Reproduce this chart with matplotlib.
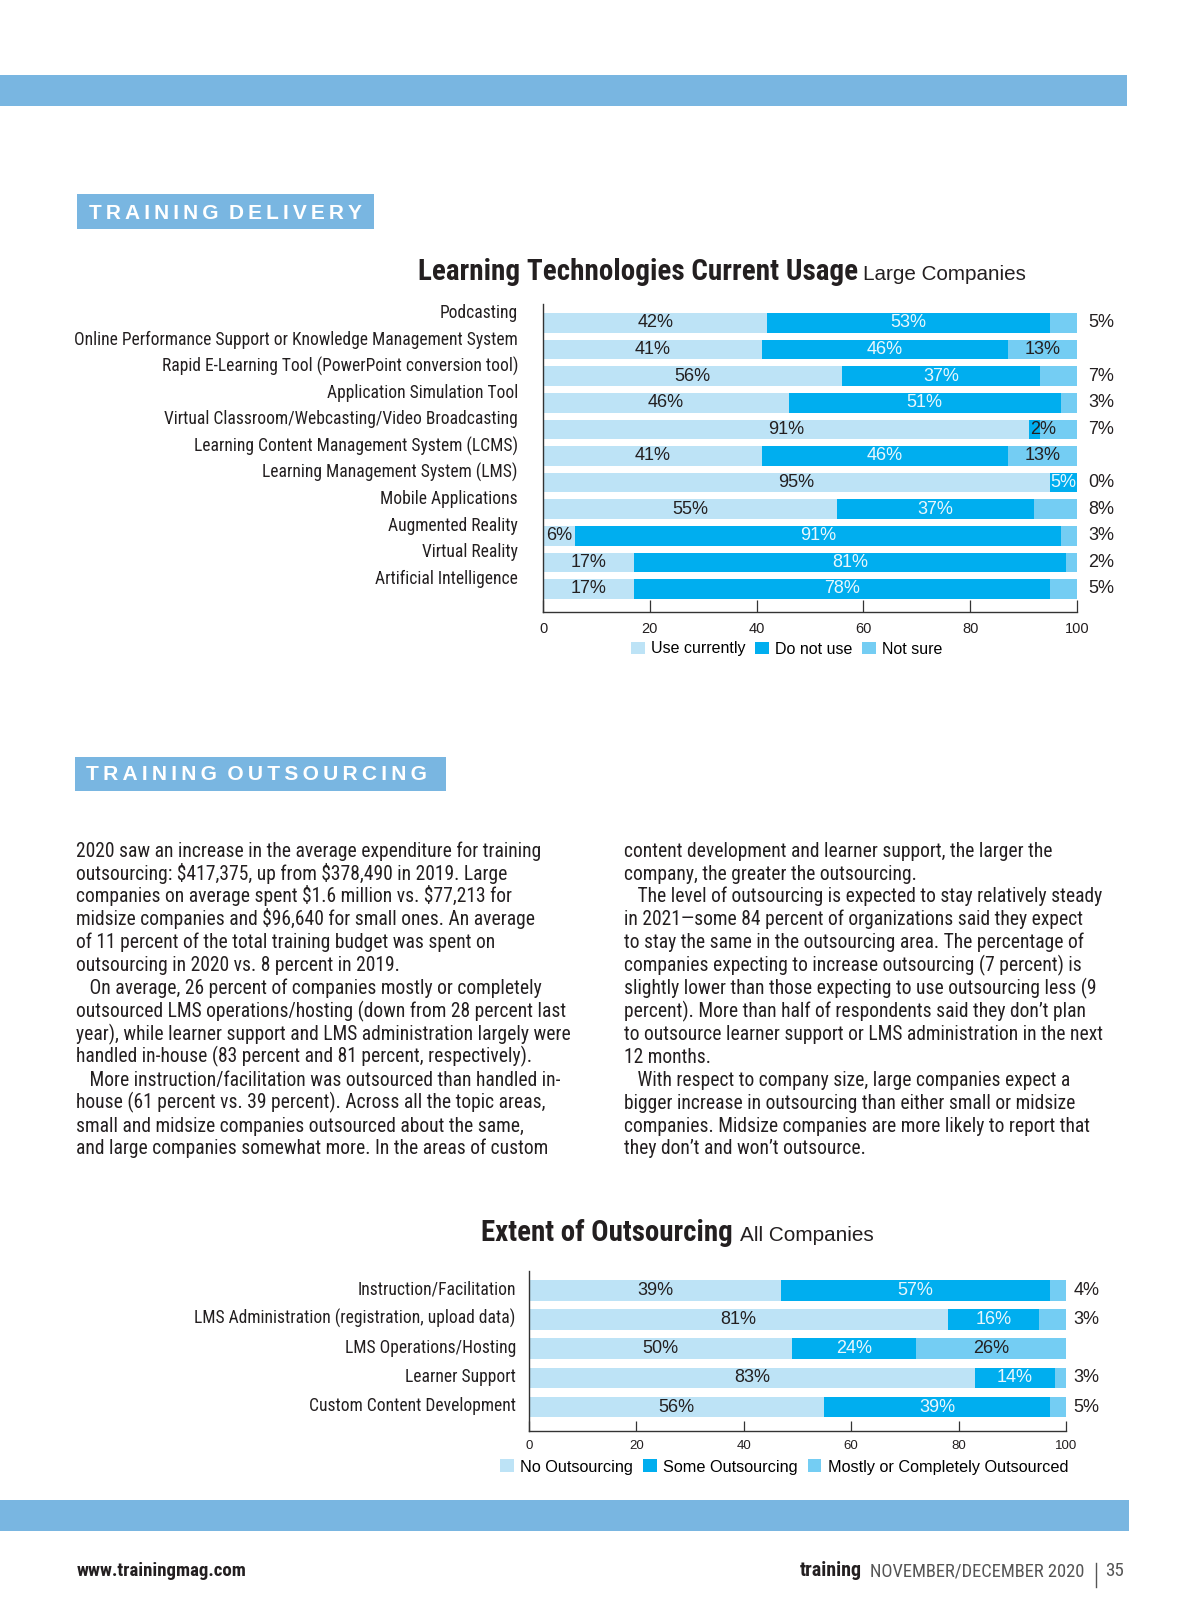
#!/usr/bin/env python3
"""Training magazine page: learning technologies usage + extent of outsourcing"""
import numpy as np
import matplotlib
matplotlib.use('Agg')
import matplotlib.pyplot as plt
import matplotlib.transforms as mtrans
from matplotlib import font_manager as fm
from matplotlib.patches import Rectangle, Patch

# ── data ──────────────────────────────────────────────────────────────────────
tech = ['Podcasting',
        'Online Performance Support or Knowledge Management System',
        'Rapid E-Learning Tool (PowerPoint conversion tool)',
        'Application Simulation Tool',
        'Virtual Classroom/Webcasting/Video Broadcasting',
        'Learning Content Management System (LCMS)',
        'Learning Management System (LMS)',
        'Mobile Applications',
        'Augmented Reality',
        'Virtual Reality',
        'Artificial Intelligence']
use_now  = [42, 41, 56, 46, 91, 41, 95, 55, 6, 17, 17]
not_use  = [53, 46, 37, 51, 2, 46, 5, 37, 91, 81, 78]
not_sure = [5, 13, 7, 3, 7, 13, 0, 8, 3, 2, 5]
tech_legend = ['Use currently', 'Do not use', 'Not sure']

areas = ['Instruction/Facilitation',
         'LMS Administration (registration, upload data)',
         'LMS Operations/Hosting',
         'Learner Support',
         'Custom Content Development']
no_out   = [39, 81, 50, 83, 56]
some_out = [57, 16, 24, 14, 39]
most_out = [4, 3, 26, 3, 5]
# segment lengths as drawn in the original (they don't all agree with the printed labels)
no_out_bar   = [47, 78, 49, 83, 55]
some_out_bar = [50, 17, 23, 15, 42]
most_out_bar = [3, 5, 28, 2, 3]
out_legend = ['No Outsourcing', 'Some Outsourcing', 'Mostly or Completely Outsourced']
ticks = [0, 20, 40, 60, 80, 100]

left_col = [
    '2020 saw an increase in the average expenditure for training',
    'outsourcing: $417,375, up from $378,490 in 2019. Large',
    'companies on average spent $1.6 million vs. $77,213 for',
    'midsize companies and $96,640 for small ones. An average',
    'of 11 percent of the total training budget was spent on',
    'outsourcing in 2020 vs. 8 percent in 2019.',
    '   On average, 26 percent of companies mostly or completely',
    'outsourced LMS operations/hosting (down from 28 percent last',
    'year), while learner support and LMS administration largely were',
    'handled in-house (83 percent and 81 percent, respectively).',
    '   More instruction/facilitation was outsourced than handled in-',
    'house (61 percent vs. 39 percent). Across all the topic areas,',
    'small and midsize companies outsourced about the same,',
    'and large companies somewhat more. In the areas of custom',
]
right_col = [
    'content development and learner support, the larger the',
    'company, the greater the outsourcing.',
    '   The level of outsourcing is expected to stay relatively steady',
    'in 2021\u2014some 84 percent of organizations said they expect',
    'to stay the same in the outsourcing area. The percentage of',
    'companies expecting to increase outsourcing (7 percent) is',
    'slightly lower than those expecting to use outsourcing less (9',
    'percent). More than half of respondents said they don\u2019t plan',
    'to outsource learner support or LMS administration in the next',
    '12 months.',
    '   With respect to company size, large companies expect a',
    'bigger increase in outsourcing than either small or midsize',
    'companies. Midsize companies are more likely to report that',
    'they don\u2019t and won\u2019t outsource.',
]

# ── style ─────────────────────────────────────────────────────────────────────
W, H = 1200, 1613
BAND  = '#79b6e1'
LIGHT = '#bde3f6'
DARK  = '#00aeef'
MID   = '#74cdf3'
INK   = '#231f20'
PALE  = '#e9f7fd'
SANS  = ['Liberation Sans', 'DejaVu Sans']


def pick_condensed():
    ttf = fm.fontManager.ttflist
    names = {f.name for f in ttf}
    for p in ['Roboto Condensed', 'Liberation Sans Narrow', 'Noto Sans Condensed',
              'Open Sans Condensed', 'DejaVu Sans Condensed']:
        if p in names:
            return p, 'normal'
    for fam in ['Roboto', 'Noto Sans', 'Open Sans', 'DejaVu Sans']:
        if any(f.name == fam and str(f.stretch) in ('condensed', 'semi-condensed', 'extra-condensed')
               for f in ttf):
            return fam, 'condensed'
    return 'Liberation Sans', 'normal'


COND, STRETCH = pick_condensed()
CF = dict(family=[COND, 'DejaVu Sans'], fontstretch=STRETCH)

fig = plt.figure(figsize=(W / 100, H / 100), dpi=100)
fig.patch.set_facecolor('white')


def fx(x): return x / W
def fy(y): return 1 - y / H


def fit_size(s, width, **kw):
    t = fig.text(0, 0, s, fontsize=10, parse_math=False, **kw)
    w = t.get_window_extent(fig.canvas.get_renderer()).width
    t.remove()
    return 10 * width / w


def block(x0, y0, x1, y1, color=BAND):
    fig.add_artist(Rectangle((fx(x0), fy(y1)), (x1 - x0) / W, (y1 - y0) / H,
                             transform=fig.transFigure, color=color, lw=0, zorder=0))


def ftext(x, y, s, width=None, **kw):
    if width:
        kw['fontsize'] = fit_size(s, width, **{k: v for k, v in kw.items() if k in ('family', 'fontstretch', 'weight')})
    return fig.text(fx(x), fy(y), s, va='baseline', parse_math=False, **kw)


def header(x0, y0, x1, y1, s, tx0, tx1, base):
    block(x0, y0, x1, y1)
    spaced = '\u2002'.join('\u2009'.join(w) for w in s.split())
    ftext(tx0, base, spaced, width=tx1 - tx0, family=SANS, weight='bold', color='white')


def stacked(ax, lengths, labels, colors, h, out_x):
    rows = np.arange(len(lengths[0]))
    left = np.zeros(len(rows))
    for k, (vals, labs, col) in enumerate(zip(lengths, labels, colors)):
        vals = np.asarray(vals, float)
        ax.barh(rows, vals, left=left, height=h, color=col, linewidth=0, zorder=2)
        for i in rows:
            txt = f'{labs[i]}%'
            kw = dict(va='center', family=SANS, fontsize=13, zorder=3)
            if k == 2 and labs[i] < 10:
                ax.text(out_x, i, txt, ha='left', color=INK, **kw)
            elif vals[i] < 4:
                ax.text(left[i] + 0.3, i, txt, ha='left', color=INK, **kw)
            else:
                ax.text(left[i] + vals[i] / 2, i, txt, ha='center',
                        color=PALE if k == 1 else INK, **kw)
        left += vals


def style_axes(ax, cats, tick_len, tick_size, tick_pad, lab_width, lab_pad, lab_shift):
    ax.set_xlim(0, 100)
    for s in ['top', 'right']:
        ax.spines[s].set_visible(False)
    for s in ['left', 'bottom']:
        ax.spines[s].set_color('#333333')
        ax.spines[s].set_linewidth(1.0)
    ax.set_xticks(ticks)
    ax.tick_params(axis='x', direction='in', length=tick_len, width=0.9, color='#333333',
                   labelsize=tick_size, pad=tick_pad, labelcolor=INK)
    for t in ax.get_xticklabels():
        t.set_family(SANS)
    ax.set_yticks(np.arange(len(cats)), cats)
    size = fit_size(max(cats, key=len), lab_width, **CF)
    ax.tick_params(axis='y', length=0, pad=lab_pad, labelsize=size, labelcolor=INK)
    off = mtrans.ScaledTranslation(0, lab_shift / 100, fig.dpi_scale_trans)
    for t in ax.get_yticklabels():
        t.set_family(CF['family'])
        t.set_fontstretch(STRETCH)
        t.set_transform(t.get_transform() + off)
    ax.patch.set_alpha(0)


# ── page furniture ────────────────────────────────────────────────────────────
block(0, 75, 1127, 106)
block(0, 1500, 1129, 1531)
header(77, 194, 374, 229, 'TRAINING DELIVERY', 89, 361, 219)
header(75, 757, 446, 791, 'TRAINING OUTSOURCING', 86, 425, 780)

# ── 1. Learning technologies ──────────────────────────────────────────────────
ftext(418, 280, 'Learning Technologies Current Usage', width=438, weight='bold', color=INK, **CF)
ftext(863, 280, 'Large Companies', width=163, family=SANS, color=INK)

ax1 = fig.add_axes([fx(543), fy(612), (1077 - 543) / W, (612 - 304) / H])
ax1.set_ylim(10.865, -0.714)
stacked(ax1, [use_now, not_use, not_sure], [use_now, not_use, not_sure],
        [LIGHT, DARK, MID], 0.73, 102.1)
style_axes(ax1, tech, 9, 10.5, 7, 441, 18, 12)

handles = [Patch(facecolor=c, linewidth=0) for c in (LIGHT, DARK, MID)]
ax1.legend(handles, tech_legend, loc='center left', bbox_to_anchor=(fx(631), fy(649)),
           bbox_transform=fig.transFigure, ncol=3, frameon=False,
           prop={'family': SANS, 'size': 11.5}, handlelength=0.85, handleheight=0.85,
           handletextpad=0.4, columnspacing=0.6, borderaxespad=0, borderpad=0)

# ── body text ─────────────────────────────────────────────────────────────────
body_size = 0.965 * fit_size(left_col[0], 477, **CF)
for i, line in enumerate(left_col):
    fig.text(fx(76), fy(856.7 + 22.9 * i), line, va='baseline', fontsize=body_size,
             color=INK, parse_math=False, **CF)
for i, line in enumerate(right_col):
    fig.text(fx(624), fy(856.7 + 22.9 * i), line, va='baseline', fontsize=body_size,
             color=INK, parse_math=False, **CF)

# ── 2. Extent of outsourcing ──────────────────────────────────────────────────
ftext(481, 1241, 'Extent of Outsourcing', width=251, weight='bold', color=INK, **CF)
ftext(740, 1241, 'All Companies', width=134, family=SANS, color=INK)

ax2 = fig.add_axes([fx(529), fy(1431), (1066 - 529) / W, (1431 - 1271) / H])
ax2.set_ylim(4.818, -0.661)
stacked(ax2, [no_out_bar, some_out_bar, most_out_bar], [no_out, some_out, most_out],
        [LIGHT, DARK, MID], 0.71, 101.4)
style_axes(ax2, areas, 7, 9.5, 6.5, 319, 9.5, 3)

ax2.legend(handles, out_legend, loc='center left', bbox_to_anchor=(fx(500), fy(1467)),
           bbox_transform=fig.transFigure, ncol=3, frameon=False,
           prop={'family': SANS, 'size': 11.7}, handlelength=0.85, handleheight=0.85,
           handletextpad=0.4, columnspacing=0.6, borderaxespad=0, borderpad=0)

# ── footer ────────────────────────────────────────────────────────────────────
ftext(77, 1576, 'www.trainingmag.com', width=170, weight='bold', color=INK, **CF)
ftext(800, 1576, 'training', width=62, weight='bold', color=INK, **CF)
ftext(870, 1576, 'NOVEMBER/DECEMBER 2020', width=215, color='#555555', **CF)
fig.add_artist(plt.Line2D([fx(1096), fx(1096)], [fy(1587), fy(1563)], transform=fig.transFigure,
                          color='#555555', lw=1))
ftext(1105, 1576, '35', width=19, color='#555555', **CF)

fig.savefig('out.png', dpi=100, facecolor='white')
